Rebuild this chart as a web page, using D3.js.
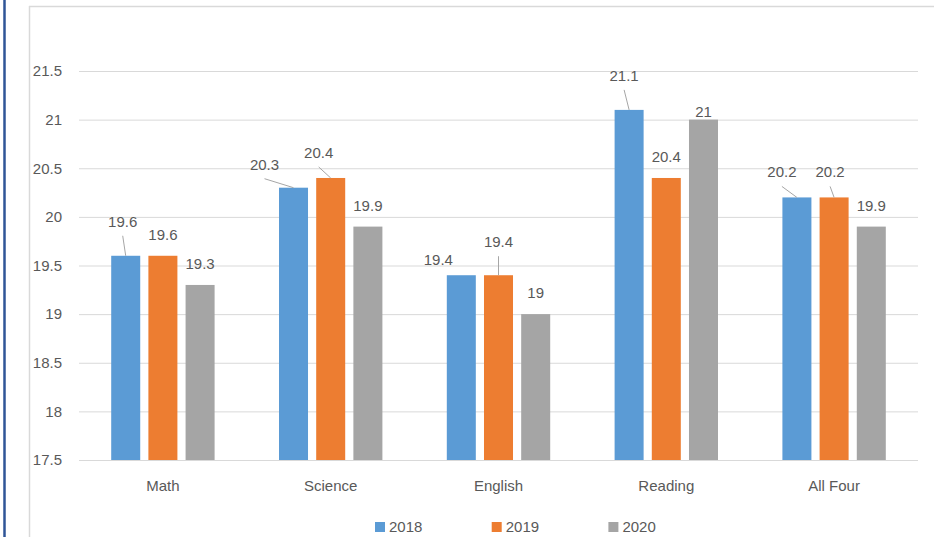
<html>
<head>
  <script src="https://d3js.org/d3.v7.min.js"></script>
  <style>
    body { margin: 0; background: white; }
    text { font-family: "Liberation Sans", Arial, sans-serif; fill: #595959; }
    .gridlines line { stroke: #d9d9d9; }
    .gridlines .domain { stroke: none; }
    .xaxis .domain { stroke: none; }
  </style>
</head>
<body>
  <svg id="chart" width="944" height="537"></svg>
  <script>
    // chart values
    const categories = ["Math", "Science", "English", "Reading", "All Four"];
    const years = ["2018", "2019", "2020"];
    const scores2018 = [19.6, 20.3, 19.4, 21.1, 20.2];
    const scores2019 = [19.6, 20.4, 19.4, 20.4, 20.2];
    const scores2020 = [19.3, 19.9, 19.0, 21.0, 19.9];
    const yTicks = [17.5, 18, 18.5, 19, 19.5, 20, 20.5, 21, 21.5];
    const colors = ["#5b9bd5", "#ed7d31", "#a5a5a5"];

    // labels that were dragged away from the bar in the original (px nudge, leader line)
    const labelMoves = {
      "Math|2018": [-3, -13, true],
      "Science|2018": [-29, -2, true],
      "Science|2019": [-12, -4, true],
      "English|2018": [-23, 6, false],
      "English|2019": [0, -12, true],
      "Reading|2018": [-5, -13, true],
      "Reading|2020": [0, 13, false],
      "All Four|2018": [-15, -4, true],
      "All Four|2019": [-4, -4, true]
    };

    const svg = d3.select("svg#chart");
    const plotLeft = 79, plotRight = 918, plotTop = 71, plotBottom = 460;
    const plotWidth = plotRight - plotLeft;

    // page frame
    svg.append("line").attr("x1", 4.5).attr("x2", 4.5).attr("y1", 0).attr("y2", 537)
      .attr("stroke", "#2f5597").attr("stroke-width", 2.5);
    svg.append("line").attr("x1", 29).attr("x2", 934).attr("y1", 6.5).attr("y2", 6.5)
      .attr("stroke", "#d9d9d9").attr("stroke-width", 1.5);
    svg.append("line").attr("x1", 29.5).attr("x2", 29.5).attr("y1", 6).attr("y2", 537)
      .attr("stroke", "#d9d9d9").attr("stroke-width", 1.5);

    const series = [scores2018, scores2019, scores2020];
    let data = [];
    categories.forEach((c, i) => {
      years.forEach((y, j) => {
        data.push({ cat: c, year: y, value: series[j][i], color: colors[j] });
      });
    });

    const yScale = d3.scaleLinear().domain([17.5, 21.5]).range([plotBottom, plotTop]);
    const x0 = d3.scaleBand().domain(categories).range([plotLeft, plotRight]).padding(0);
    const x1 = d3.scaleBand().domain(years).range([0, x0.bandwidth()])
      .paddingInner(0.22).paddingOuter(0.866);

    // y gridlines + labels
    svg.append("g")
      .attr("class", "gridlines")
      .attr("transform", `translate(${plotLeft},0)`)
      .call(d3.axisLeft(yScale).tickValues(yTicks).tickSize(-plotWidth).tickPadding(17)
        .tickFormat(d3.format("~g")))
      .selectAll("text")
      .style("font-size", "15px")
      .attr("fill", "#595959");

    // bars
    svg.append("g").selectAll("rect").data(data).join("rect")
      .attr("x", d => x0(d.cat) + x1(d.year))
      .attr("y", d => yScale(d.value))
      .attr("width", x1.bandwidth())
      .attr("height", d => plotBottom - yScale(d.value))
      .attr("fill", d => d.color);

    // category axis
    svg.append("g")
      .attr("class", "xaxis")
      .attr("transform", `translate(0,${plotBottom})`)
      .call(d3.axisBottom(x0).tickSize(0).tickPadding(20))
      .selectAll("text")
      .style("font-size", "15px")
      .attr("fill", "#595959");

    // data labels
    let labels = svg.append("g");
    data.forEach(d => {
      const cx = x0(d.cat) + x1(d.year) + x1.bandwidth() / 2;
      const barTop = yScale(d.value);
      const move = labelMoves[d.cat + "|" + d.year] || [0, 0, false];
      const lx = cx + move[0];
      const ly = barTop - 16 + move[1];
      if (move[2]) {
        labels.append("line")
          .attr("x1", lx).attr("y1", ly + 9)
          .attr("x2", cx).attr("y2", barTop)
          .attr("stroke", "#a6a6a6").attr("stroke-width", 1);
      }
      labels.append("text")
        .attr("x", lx).attr("y", ly)
        .attr("text-anchor", "middle")
        .style("font-size", "15px")
        .text(d3.format("~g")(d.value));
    });

    // legend
    let legend = svg.append("g").attr("transform", "translate(375,522)");
    years.forEach((y, j) => {
      let item = legend.append("g").attr("transform", `translate(${j * 116.7},0)`);
      item.append("rect").attr("width", 10).attr("height", 10).attr("fill", colors[j]);
      item.append("text").attr("x", 14).attr("y", 10).style("font-size", "15px").text(y);
    });
  </script>
</body>
</html>
